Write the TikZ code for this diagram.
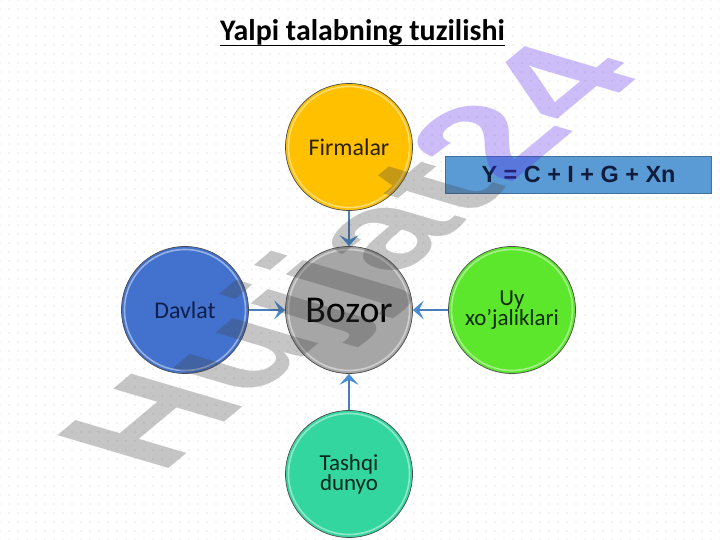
\documentclass[tikz,border=0pt]{standalone}
\usepackage{fontspec}
\setmainfont{Carlito}
\newfontfamily\arialf{Liberation Sans}
\usetikzlibrary{arrows.meta,patterns.meta}
\definecolor{firmc}{RGB}{255,192,0}
\definecolor{bozc}{RGB}{166,166,166}
\definecolor{davc}{RGB}{66,114,206}
\definecolor{uyc}{RGB}{92,230,44}
\definecolor{tashc}{RGB}{52,214,160}
\definecolor{linkblue}{RGB}{74,126,187}
\definecolor{tipblue}{RGB}{70,140,215}
\definecolor{boxc}{RGB}{91,155,213}
\definecolor{boxline}{RGB}{65,113,156}
\definecolor{navy}{RGB}{15,28,60}
\definecolor{wmgray}{RGB}{65,65,65}
\definecolor{wmpurple}{RGB}{88,39,238}
\definecolor{dotc}{RGB}{200,200,200}
\begin{document}
\begin{tikzpicture}[x=1bp,y=1bp,
  bubble/.style={circle, minimum size=127bp, inner sep=0pt, draw=black!70,
    line width=0.7bp, align=center, font=\fontsize{24}{24}\selectfont},
  rim/.style={draw=white, opacity=0.45, line width=1.6bp},
  link/.style={draw=linkblue, line width=1.4bp,
    -{Stealth[length=11bp,width=19bp,inset=5bp,color=tipblue]}}]
\useasboundingbox (0,0) rectangle (720,540);
\fill[white] (0,0) rectangle (720,540);
\fill[pattern={Dots[distance=9bp,radius=0.55bp]}, pattern color=dotc] (0,0) rectangle (720,540);

% title
\node[font=\bfseries\fontsize{30}{30}\selectfont, anchor=base, inner sep=0pt] (title) at (362.5,499) {Yalpi talabning tuzilishi};
\draw[line width=1.9bp] ([yshift=-4.5bp]title.base west) -- ([yshift=-4.5bp]title.base east);

% formula box
\node[draw=boxline, fill=boxc, line width=0.6bp, minimum width=266bp, minimum height=37bp,
  inner sep=0pt, text=navy, font=\arialf\bfseries\fontsize{23.5}{23.5}\selectfont] (formula) at (578.5,365.5) {Y = C + I + G + Xn};

% bubbles
\node[bubble, fill=firmc, text={rgb,255:red,43;green,33;blue,0}] (firm) at (349,393) {\raisebox{-3bp}{Firmalar}};
\node[bubble, fill=bozc, font=\fontsize{38}{38}\selectfont] (boz) at (349,230) {Bozor};
\node[bubble, fill=davc, text={rgb,255:red,15;green,30;blue,74}] (dav) at (185,230) {Davlat};
\node[bubble, fill=uyc, text={rgb,255:red,11;green,42;blue,5}, font=\fontsize{23}{20}\selectfont] (uy) at (512,230) {\raisebox{2bp}{\parbox{110bp}{\centering Uy\\xo’jaliklari}}};
\node[bubble, fill=tashc, text={rgb,255:red,7;green,38;blue,28}, font=\fontsize{23}{20}\selectfont] (tash) at (349,66) {\raisebox{-6bp}{\parbox{70bp}{\centering Tashqi\\dunyo}}};
\foreach \n in {firm,boz,dav,uy,tash} \draw[rim] (\n.center) circle[radius=60.5];

% connectors
\draw[link] (firm) -- (boz);
\draw[link] (dav) -- (boz);
\draw[link] (uy) -- (boz);
\draw[link] (tash) -- (boz);

% watermark
\begin{scope}[cm={0.84,0.70,-1.08,0.32,(160bp,64bp)}]
\node[anchor=base west, inner sep=0pt, transform shape, text opacity=0.3,
  font=\arialf\bfseries\fontsize{150}{150}\selectfont] (wm) at (0,0)
  {\textcolor{wmgray}{Hujjat}\textcolor{wmpurple}{24}};
\end{scope}
\end{tikzpicture}
\end{document}
